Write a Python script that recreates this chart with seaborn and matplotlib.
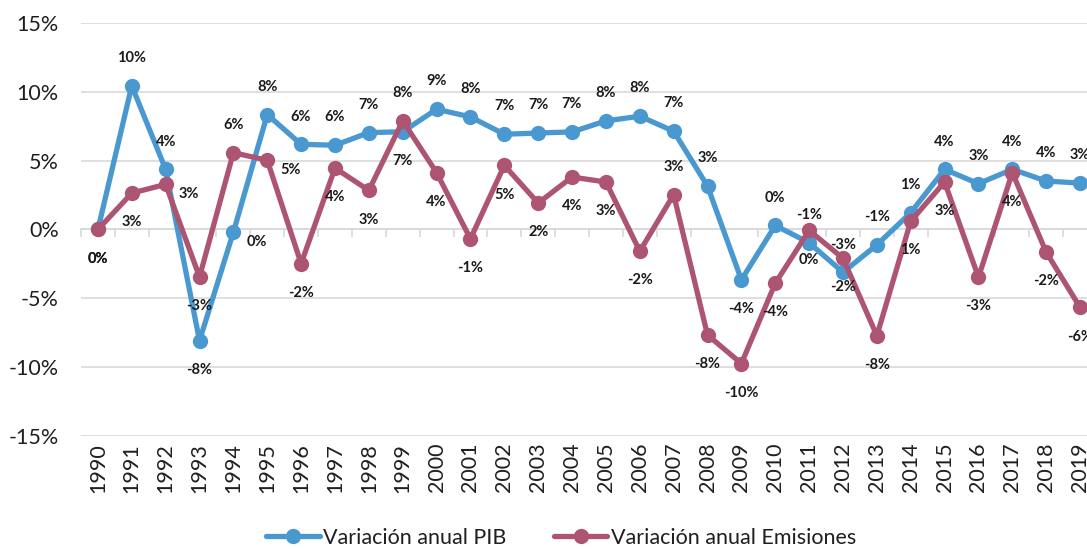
import pandas as pd
import matplotlib
matplotlib.use('Agg')
from matplotlib import pyplot as plt
from matplotlib.ticker import FuncFormatter
from matplotlib.lines import Line2D
import seaborn as sns

# datos (en %)
anios = [1990, 1991, 1992, 1993, 1994, 1995, 1996, 1997, 1998, 1999,
         2000, 2001, 2002, 2003, 2004, 2005, 2006, 2007, 2008, 2009,
         2010, 2011, 2012, 2013, 2014, 2015, 2016, 2017, 2018, 2019]
pib = [0.0, 10.44, 4.37, -8.08, -0.2, 8.35, 6.19, 6.12, 7.04, 7.1,
       8.74, 8.18, 6.92, 7.01, 7.09, 7.89, 8.23, 7.14, 3.15, -3.66,
       0.29, -0.97, -3.11, -1.12, 1.22, 4.37, 3.33, 4.37, 3.52, 3.37]
emisiones = [0.0, 2.64, 3.28, -3.45, 5.58, 5.03, -2.48, 4.46, 2.84, 7.9,
             4.13, -0.68, 4.66, 1.92, 3.81, 3.45, -1.58, 2.53, -7.67, -9.74,
             -3.91, -0.07, -2.09, -7.72, 0.6, 3.45, -3.47, 4.13, -1.65, -5.66]
series = ['Variación anual PIB', 'Variación anual Emisiones']
colores = ['#4A98D0', '#AE5473']

# posicion de las etiquetas: a=arriba, b=abajo, r=derecha
pos_pib = list('baabraaaab' + 'aaaaaaaaab' + 'aaaaaaaaaa')
pos_emi = list('bbrbarbbba' + 'bbbbbbbabb' + 'bbbbbbbbbb')
offs = {'a': (0, 20), 'b': (0, -21), 'r': (17, -7)}

df = pd.DataFrame({'anio': anios * 2,
                   'valor': pib + emisiones,
                   'serie': [series[0]] * len(anios) + [series[1]] * len(anios)})

sns.set_theme(style='white')
plt.rcParams['font.family'] = ['Lato', 'DejaVu Sans']

fig = plt.figure(figsize=(10.87, 5.49), dpi=100)
ax = fig.add_axes([0.0745, 0.206, 0.9347, 0.752])

sns.lineplot(data=df, x='anio', y='valor', hue='serie', hue_order=series,
             palette=colores, marker='o', markersize=11, markeredgewidth=0,
             linewidth=3.8, legend=False, ax=ax)

for vals, pos in [(pib, pos_pib), (emisiones, pos_emi)]:
    for x, v, p in zip(anios, vals, pos):
        ax.annotate(f"{round(v)}%", (x, v), xytext=offs[p], textcoords='offset points',
                    ha='center', va='center', fontsize=10.5, fontweight='bold',
                    color='#1a1a1a', zorder=5)

ax.set_xlim(1989.5, 2019.5)
ax.set_ylim(-15, 15)
ax.set_yticks([-15, -10, -5, 0, 5, 10, 15])
ax.yaxis.set_major_formatter(FuncFormatter(lambda v, _: f"{v:.0f}%"))
ax.set_xticks(anios)
ax.set_xticklabels([str(a) for a in anios], rotation=90)
ax.tick_params(axis='x', length=0, pad=5, labelsize=15.5, labelcolor='#1f1f1f')
ax.tick_params(axis='y', length=0, pad=16, labelsize=15.5, labelcolor='#1f1f1f')
ax.set_xlabel('')
ax.set_ylabel('')
ax.grid(axis='y', color='#D9D9D9', linewidth=1.2)
ax.grid(axis='x', visible=False)
ax.set_axisbelow(True)
for s in ax.spines.values():
    s.set_visible(False)

# eje en el 0% con marcas entre categorias
secax = ax.secondary_xaxis(0.5)
secax.set_alignment('bottom')
secax.set_xticks([a - 0.5 for a in anios] + [anios[-1] + 0.5])
secax.tick_params(axis='x', direction='out', length=6, width=1.2, color='#D9D9D9', labelbottom=False)
secax.spines['bottom'].set_color('#D9D9D9')
secax.spines['bottom'].set_linewidth(1.2)

handles = [Line2D([], [], color=c, linewidth=3.8, marker='o', markersize=11, markeredgewidth=0)
           for c in colores]
fig.legend(handles, series, loc='center', bbox_to_anchor=(0.516, 0.02), ncol=2,
           frameon=False, fontsize=15.5, handlelength=2.5, handletextpad=0.15,
           columnspacing=2.2, labelcolor='#1f1f1f')

fig.savefig('out.png', dpi=100)
